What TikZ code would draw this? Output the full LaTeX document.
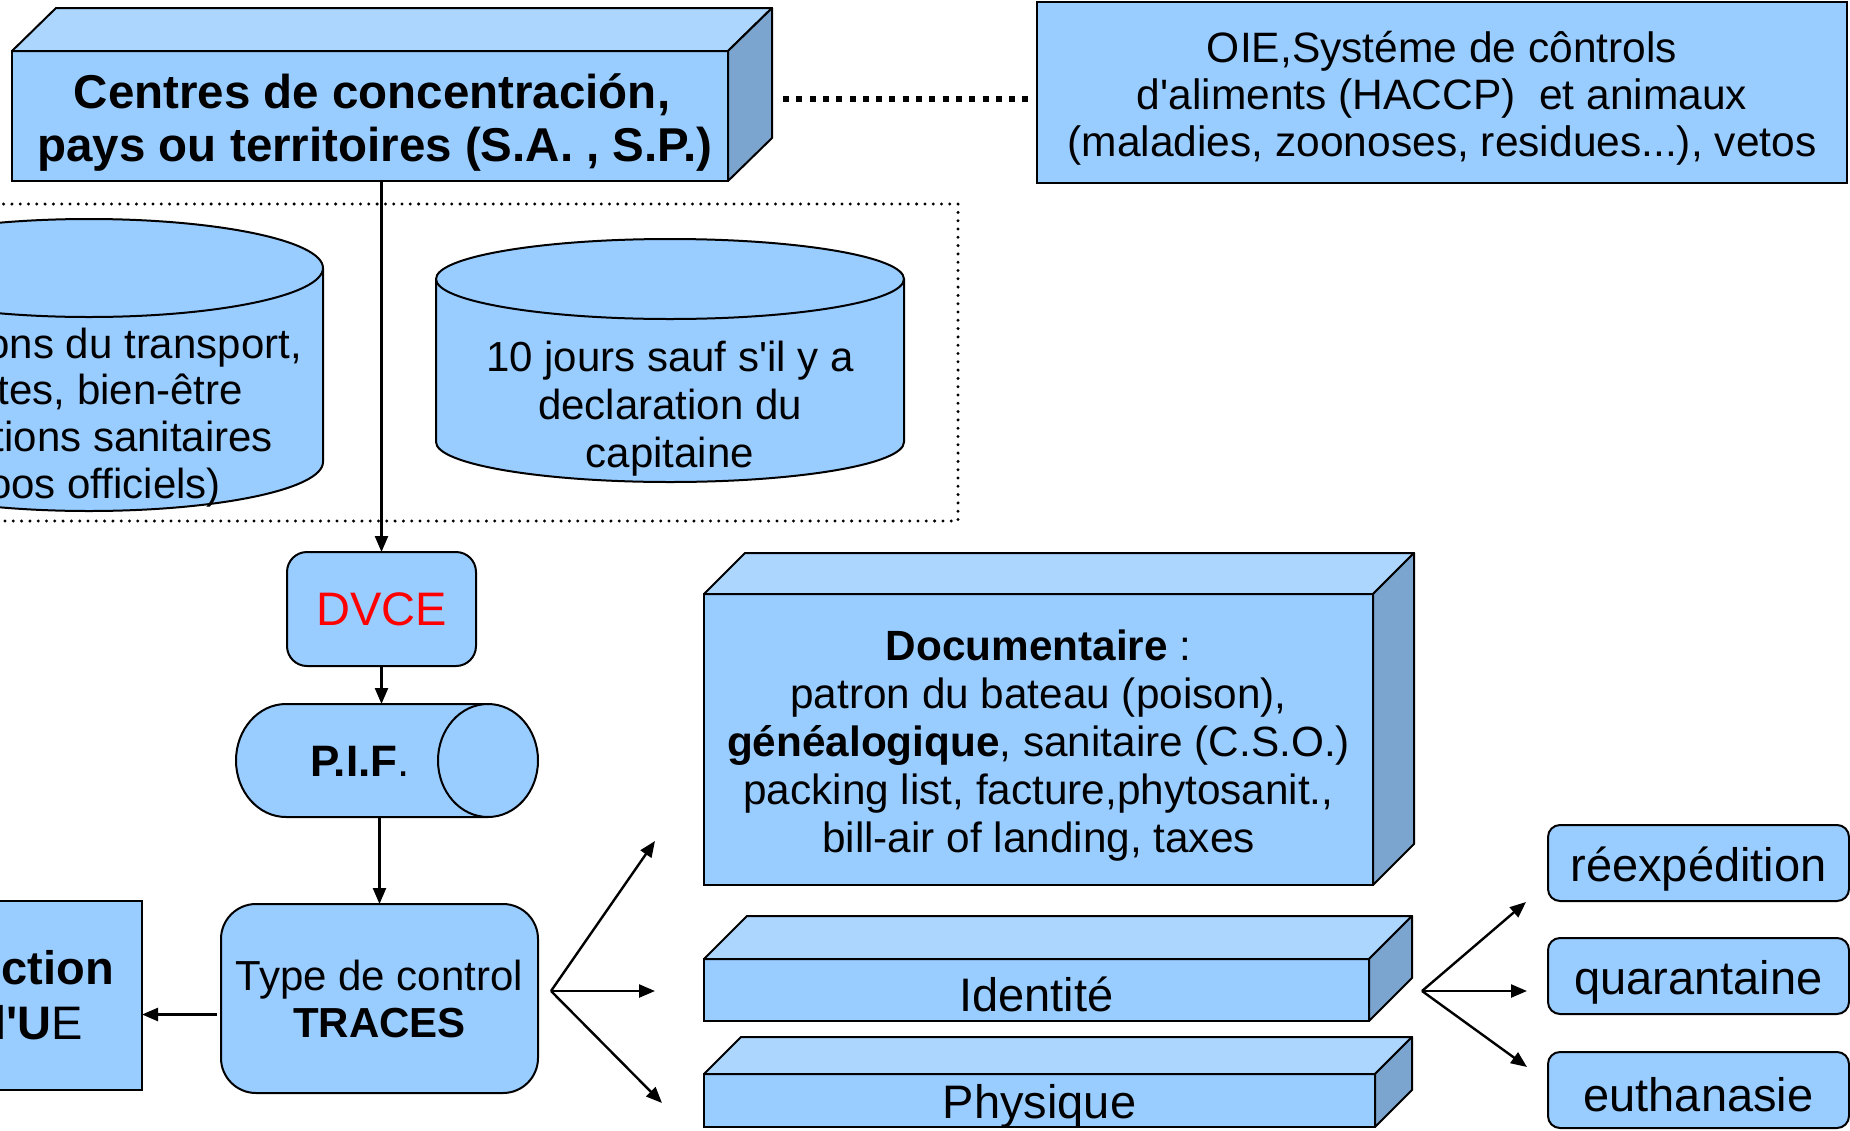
\documentclass[tikz,border=0pt]{standalone}
\usepackage{fontspec}
\setmainfont{Liberation Sans}[Ligatures=TeXOff]
\usetikzlibrary{calc,arrows.meta}
\definecolor{fr}{HTML}{99CCFF}
\definecolor{tp}{HTML}{ADD6FF}
\definecolor{sd}{HTML}{7BA5CF}
\newcommand\fsz[2]{\fontsize{#1}{#2}\selectfont}
\newcommand\cubfaces[3]{%
  \draw[topf] (#1.north west) -- ++(#2,-#3) -- ($(#1.north east)+(#2,-#3)$) -- (#1.north east) -- cycle;
  \draw[sidef] (#1.north east) -- ++(#2,-#3) -- ($(#1.south east)+(#2,-#3)$) -- (#1.south east) -- cycle;}
\newcommand\drumshape[5]{% cx, top cy, bottom cy, rx, ry
  \draw[cylf] ({#1-#4},#2) -- ({#1-#4},#3) arc[start angle=180,end angle=0,x radius=#4,y radius=#5] -- ({#1+#4},#2);
  \draw[cylf] (#1,#2) ellipse[x radius=#4,y radius=#5];}
\tikzset{
  box/.style={draw=black, line width=2pt, fill=fr, inner sep=0pt, outer sep=0pt, align=center},
  rbox/.style={box, rounded corners=#1},
  txt/.style={inner sep=0pt, align=center},
  topf/.style={draw=black, line width=2pt, fill=tp, line join=round},
  sidef/.style={draw=black, line width=2pt, fill=sd, line join=round},
  cylf/.style={draw=black, line width=2pt, fill=fr},
  arr/.style={line width=2.4pt, -{Triangle[length=16pt,width=13pt]}},
  dotline/.style={line width=6pt, dash pattern=on 6pt off 7.3pt},
  dotrect/.style={line width=3.3pt, line cap=round, dash pattern=on 0pt off 8.3pt},
}
\begin{document}
\begin{tikzpicture}[x=1pt,y=-1pt]
\useasboundingbox (0,0) rectangle (1850,1130);
\clip (0,0) rectangle (1850,1130);

% top cuboid
\node[box, minimum width=716pt, minimum height=130pt] (cent) at (370,116) {};
\node[txt, font={\bfseries\fsz{47.5}{53}}] (centT) at ($(cent)+(2,7)$)
  {Centres de concentración,\\\hspace*{6pt}pays ou territoires (S.A. , S.P.)};
\cubfaces{cent}{44}{43}

% OIE box
\node[box, minimum width=810pt, minimum height=181pt] (oie) at (1442,92.5) {};
\node[txt, font={\fsz{42.5}{47}}] (oieT) at ($(oie)+(0,6)$)
  {OIE,Systéme de côntrols\\d'aliments (HACCP)\ \ et animaux\\(maladies, zoonoses, residues...), vetos};
\draw[dotline] ($(cent.east)+(55,-17)$) coordinate (d1) -- ($(d1 -| oie.west)+(-8,0)$);

% dotted frame and drums
\draw[dotrect] (-10,204) rectangle (958,521);
\drumshape{89}{268}{462}{234}{49}
\node[anchor=base east, font={\fsz{42}{47}}, inner sep=0pt] (c1a) at (302,358) {ons du transport,};
\node[anchor=base east, font={\fsz{42}{47}}, inner sep=0pt] (c1b) at (243,404) {tes, bien-être};
\node[anchor=base east, font={\fsz{42}{47}}, inner sep=0pt] (c1c) at (273,451) {tions sanitaires};
\node[anchor=base east, font={\fsz{42}{47}}, inner sep=0pt] (c1d) at (221,498) {oos officiels)};
\drumshape{670}{279}{442}{234}{40}
\node[txt, font={\fsz{42}{48}}] (c2) at (670,409)
  {10 jours sauf s'il y a\\declaration du\\capitaine};

% DVCE
\node[rbox=20pt, minimum width=189pt, minimum height=114pt, font={\fsz{47}{53}}, text=red] (dvce) at (381.5,609) {DVCE};
\draw[arr] (dvce.north |- cent.south) -- (dvce.north);

% PIF
\node[minimum width=302pt, minimum height=113pt, inner sep=0pt, outer sep=0pt] (pif) at (387,760.5) {};
\draw[cylf] (488,704) -- (286,704) arc[start angle=270,end angle=90,x radius=50,y radius=56.5] -- (488,817);
\draw[cylf] (488,760.5) ellipse[x radius=50,y radius=56.5];
\node[font={\fsz{44}{50}}, inner sep=0pt] (piftxt) at (360,761) {\textbf{P.I.F}.};
\draw[arr] (dvce.south) -- (dvce.south |- pif.north);

% Type de control
\node[rbox=35pt, minimum width=317pt, minimum height=189pt, font={\fsz{42}{47}}] (type) at (379.5,998.5)
  {Type de control\\\textbf{TRACES}};
\draw[arr] (type.north |- pif.south) -- (type.north);

% left cut box
\node[box, minimum width=162pt, minimum height=189pt] (lbox) at (61,995.5) {};
\node[anchor=base east, font={\bfseries\fsz{47}{53}}, inner sep=0pt] (l1) at (114,984) {ction};
\node[anchor=base east, font={\fsz{47}{53}}, inner sep=0pt] (l2) at (83,1039) {\textbf{l'U}E};
\draw[arr] ($(type.west)+(-4,16)$) coordinate (t1) -- (t1 -| lbox.east);

% Documentaire
\node[box, minimum width=669pt, minimum height=291pt] (doc) at (1038.5,739.5) {};
\node[txt, font={\fsz{42.3}{48}}] (docT) at ($(doc)+(0,6)$)
  {\textbf{Documentaire} :\\patron du bateau (poison),\\\textbf{généalogique}, sanitaire (C.S.O.)\\packing list, facture,phytosanit.,\\bill-air of landing, taxes};
\cubfaces{doc}{41}{41}

% Identite / Physique
\node[box, minimum width=665pt, minimum height=62pt] (ident) at (1036.5,990) {};
\node[txt, font={\fsz{47}{53}}] (identT) at ($(ident)+(0,4)$) {Identité};
\cubfaces{ident}{43}{43}
\node[box, minimum width=671pt, minimum height=53pt] (phys) at (1039.5,1100.5) {};
\node[txt, font={\fsz{47}{53}}] (physT) at ($(phys)+(0,6)$) {Physique};
\cubfaces{phys}{37}{37}

% fork from Type
\coordinate (f1) at ($(type.east)+(13,-7.5)$);
\draw[arr] (f1) -- ($(doc.south west)+(-49,-44)$);
\draw[arr] (f1) -- ($(ident.west)+(-49,1)$);
\draw[arr] (f1) -- ($(phys.west)+(-42,2.5)$);

% right boxes
\node[rbox=12pt, minimum width=301pt, minimum height=76pt] (reex) at (1698.5,863) {};
\node[txt, font={\fsz{47}{53}}] (reexT) at ($(reex)+(0,6)$) {réexpédition};
\node[rbox=12pt, minimum width=301pt, minimum height=76pt] (quar) at (1698.5,976) {};
\node[txt, font={\fsz{47}{53}}] (quarT) at ($(quar)+(0,6)$) {quarantaine};
\node[rbox=12pt, minimum width=301pt, minimum height=76pt] (euth) at (1698.5,1090) {};
\node[txt, font={\fsz{47}{53}}] (euthT) at ($(euth)+(0,5)$) {euthanasie};

\coordinate (f2) at ($(ident.east)+(53,1)$);
\draw[arr] (f2) -- ($(reex.south west)+(-22,1)$);
\draw[arr] (f2) -- ($(quar.west)+(-21,15)$);
\draw[arr] (f2) -- ($(euth.north west)+(-21,15)$);
\end{tikzpicture}
\end{document}
